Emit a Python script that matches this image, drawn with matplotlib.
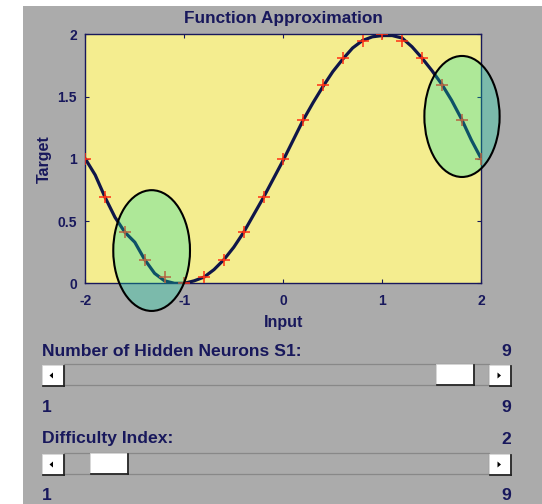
import matplotlib
matplotlib.use("Agg")
import matplotlib.pyplot as plt
from matplotlib.patches import Ellipse, Rectangle, Polygon

plt.rcParams["font.family"] = ["Liberation Sans", "DejaVu Sans"]
plt.rcParams["font.weight"] = "bold"

# --- data ---
p_target = [-2.0, -1.8, -1.6, -1.4, -1.2, -1.0, -0.8, -0.6, -0.4, -0.2, 0.0,
            0.2, 0.4, 0.6, 0.8, 1.0, 1.2, 1.4, 1.6, 1.8, 2.0]
t_target = [1.00, 0.69, 0.41, 0.19, 0.05, 0.00, 0.05, 0.19, 0.41, 0.69, 1.00,
            1.31, 1.59, 1.81, 1.95, 2.00, 1.95, 1.81, 1.59, 1.31, 1.00]

p_net = [-2.0, -1.9, -1.8, -1.7, -1.6, -1.5, -1.4, -1.3, -1.2, -1.1, -1.0,
         -0.9, -0.8, -0.7, -0.6, -0.5, -0.4, -0.3, -0.2, -0.1, 0.0,
         0.1, 0.2, 0.3, 0.4, 0.5, 0.6, 0.7, 0.8, 0.9, 1.0,
         1.1, 1.2, 1.3, 1.4, 1.5, 1.6, 1.7, 1.8, 1.9, 2.0]
a_net = [1.00, 0.87, 0.69, 0.53, 0.41, 0.33, 0.19, 0.08, 0.02, 0.00, 0.00,
         0.02, 0.05, 0.11, 0.19, 0.29, 0.41, 0.55, 0.69, 0.84, 0.99,
         1.15, 1.31, 1.45, 1.58, 1.70, 1.80, 1.89, 1.95, 1.98, 1.99,
         1.99, 1.97, 1.90, 1.81, 1.71, 1.60, 1.47, 1.32, 1.15, 1.00]

# highlighted regions (centre x, centre y, width, height)
ellipse_cx = [-1.33, 1.805]
ellipse_cy = [0.263, 1.34]
ellipse_w = [0.775, 0.76]
ellipse_h = [0.97, 0.972]

x_ticks = [-2, -1, 0, 1, 2]
y_ticks = [0, 0.5, 1, 1.5, 2]
y_ticklabels = ["0", "0.5", "1", "1.5", "2"]

slider_names = ["Number of Hidden Neurons S1:", "Difficulty Index:"]
slider_values = [9, 2]
slider_min = [1, 1]
slider_max = [9, 9]

W, H = 542, 504
NAVY = "#18185c"
GRAY = "#ababab"
FS = 12.6

fig = plt.figure(figsize=(W / 100, H / 100), dpi=100, facecolor="white")

# ui layer in pixel coordinates, sits behind the plot
ui = fig.add_axes([0, 0, 1, 1], zorder=-1)
ui.set_xlim(0, W); ui.set_ylim(H, 0); ui.axis("off")
ui.add_patch(Rectangle((23, 6), W - 23, H - 6, facecolor=GRAY, edgecolor="none"))

ui.text(283.3, 18, "Function Approximation", ha="center", va="center",
        fontsize=12.4, color=NAVY, fontweight="bold")
ui.text(44, 159, "Target", ha="center", va="center", rotation=90,
        fontsize=11.5, color=NAVY, fontweight="bold")
ui.text(283.3, 322, "Input", ha="center", va="center",
        fontsize=11.5, color=NAVY, fontweight="bold")


def button(x0, y0, w, h, arrow=None):
    ui.add_patch(Rectangle((x0, y0), w, h, facecolor="white", edgecolor="#d8d8d8", lw=0.6))
    ui.plot([x0 + w, x0 + w], [y0 + 1, y0 + h], color="#222222", lw=1.3)
    ui.plot([x0 + 1, x0 + w], [y0 + h, y0 + h], color="#222222", lw=1.3)
    cx, cy = x0 + w / 2 - 1, y0 + h / 2
    if arrow == "left":
        ui.add_patch(Polygon([(cx - 2, cy), (cx + 1.5, cy - 3), (cx + 1.5, cy + 3)],
                             closed=True, facecolor="black", edgecolor="none"))
    elif arrow == "right":
        ui.add_patch(Polygon([(cx + 2, cy), (cx - 1.5, cy - 3), (cx - 1.5, cy + 3)],
                             closed=True, facecolor="black", edgecolor="none"))


slider_top = [364, 453]
label_y = [351, 439]
range_y = [407.5, 495]
x_left, x_right = 41.5, 511
btn_w, sl_h, thumb_w = 22, 21, 38
for i, name in enumerate(slider_names):
    yt = slider_top[i]
    ui.text(x_left, label_y[i], name, ha="left", va="center", fontsize=FS,
            color=NAVY, fontweight="bold")
    ui.text(x_right, label_y[i], str(slider_values[i]), ha="right", va="center",
            fontsize=FS, color=NAVY, fontweight="bold")
    ui.text(x_left, range_y[i], str(slider_min[i]), ha="left", va="center",
            fontsize=FS, color=NAVY, fontweight="bold")
    ui.text(x_right, range_y[i], str(slider_max[i]), ha="right", va="center",
            fontsize=FS, color=NAVY, fontweight="bold")
    # trough
    ui.add_patch(Rectangle((x_left + btn_w, yt), x_right - x_left - 2 * btn_w, sl_h,
                           facecolor=GRAY, edgecolor="#888888", lw=0.9))
    button(x_left, yt + 1, btn_w, sl_h, "left")
    button(x_right - btn_w, yt + 1, btn_w, sl_h, "right")
    frac = (slider_values[i] - slider_min[i]) / (slider_max[i] - slider_min[i])
    button(40.6 + frac * 395.4, yt, thumb_w, sl_h)

# main plot
ax = fig.add_axes([85.3 / W, 1 - 283.3 / H, 396 / W, 249 / H], zorder=1)
ax.set_facecolor("#f4ed8f")
ax.plot(p_net, a_net, color="#0f1649", lw=2.3, solid_capstyle="round", zorder=3)
ax.plot(p_target, t_target, "+", color="#ff3014", ms=8, mew=1.1, zorder=4)

for cx, cy, w, h in zip(ellipse_cx, ellipse_cy, ellipse_w, ellipse_h):
    ax.add_patch(Ellipse((cx, cy), w, h, facecolor=(0.05, 0.87, 0.68, 0.3),
                         edgecolor="black", lw=1.5, clip_on=False, zorder=5))

ax.set_xlim(-2, 2)
ax.set_ylim(0, 2)
ax.set_xticks(x_ticks)
ax.set_xticklabels([str(v) for v in x_ticks])
ax.set_yticks(y_ticks)
ax.set_yticklabels(y_ticklabels)
ax.tick_params(direction="in", length=3, width=0.8, color=NAVY, labelcolor=NAVY,
               labelsize=10, top=True, right=True)
ax.tick_params(axis="x", pad=8)
ax.tick_params(axis="y", pad=6)
for lab in ax.get_xticklabels() + ax.get_yticklabels():
    lab.set_fontweight("bold")
for s in ax.spines.values():
    s.set_color(NAVY)
    s.set_linewidth(1.0)

fig.savefig("out.png", dpi=100)
